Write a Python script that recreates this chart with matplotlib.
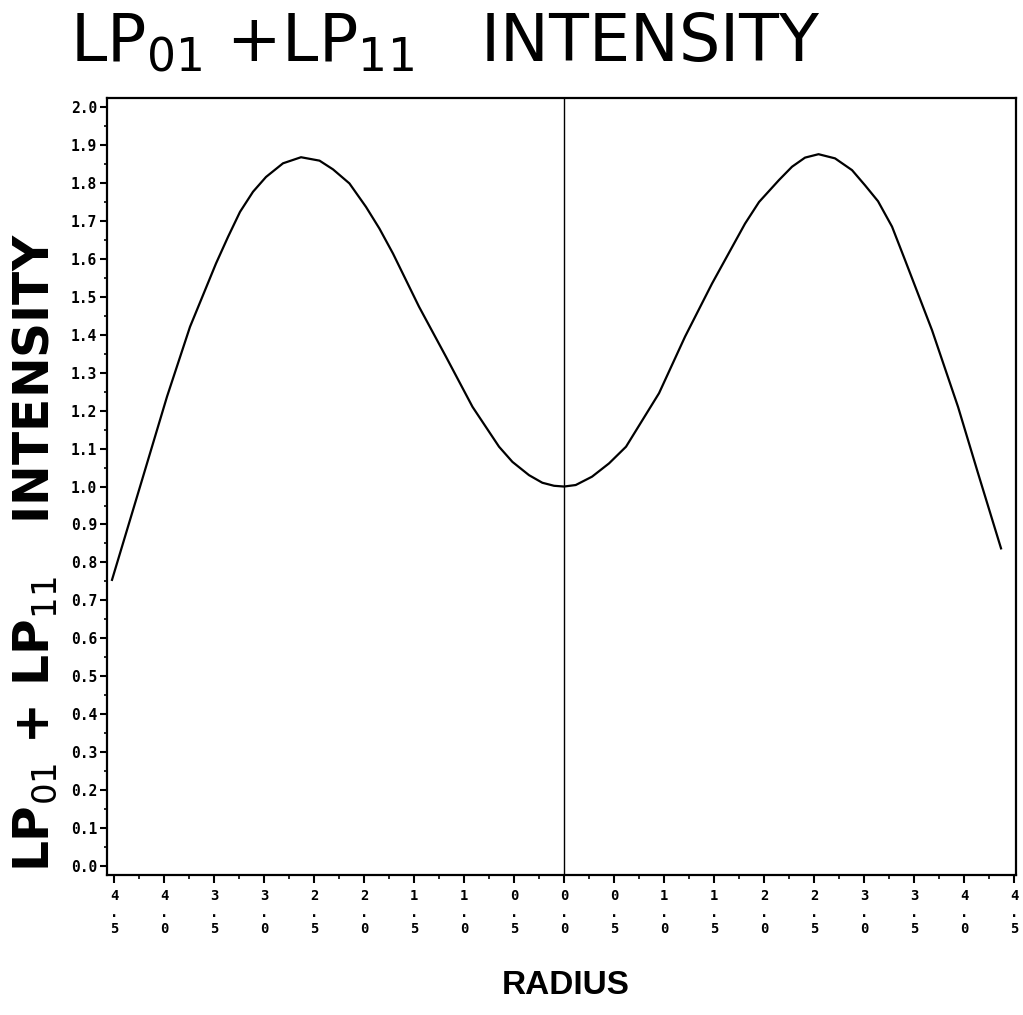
import matplotlib
matplotlib.use("Agg")
import matplotlib.pyplot as plt
from matplotlib.ticker import MultipleLocator, FixedLocator

# ---- data ----
radius = [-4.52, -4.22, -3.97, -3.74, -3.48, -3.36, -3.24, -3.11, -2.98, -2.81, -2.63,
          -2.445, -2.31, -2.146, -1.98, -1.846, -1.71, -1.45, -1.18, -0.915, -0.65, -0.516,
          -0.35, -0.217, -0.10, 0.0,
          0.117, 0.28, 0.45, 0.62, 0.95, 1.21, 1.48, 1.81, 1.95, 2.15, 2.28, 2.41, 2.545,
          2.71, 2.88, 3.01, 3.14, 3.28, 3.41, 3.68, 3.94, 4.14, 4.37]
intensity = [0.754, 1.017, 1.237, 1.421, 1.588, 1.658, 1.724, 1.777, 1.816, 1.852, 1.868,
             1.859, 1.836, 1.799, 1.737, 1.680, 1.614, 1.474, 1.342, 1.210, 1.105, 1.065,
             1.030, 1.010, 1.002, 1.000,
             1.004, 1.026, 1.061, 1.105, 1.246, 1.395, 1.535, 1.693, 1.750, 1.808, 1.843, 1.867, 1.876,
             1.865, 1.834, 1.794, 1.752, 1.685, 1.597, 1.412, 1.210, 1.035, 0.837]

xtick_vals = [-4.5, -4.0, -3.5, -3.0, -2.5, -2.0, -1.5, -1.0, -0.5, 0.0,
              0.5, 1.0, 1.5, 2.0, 2.5, 3.0, 3.5, 4.0, 4.5]
ytick_vals = [0.0, 0.1, 0.2, 0.3, 0.4, 0.5, 0.6, 0.7, 0.8, 0.9, 1.0,
              1.1, 1.2, 1.3, 1.4, 1.5, 1.6, 1.7, 1.8, 1.9, 2.0]

title_text = r"LP$_{01}$ +LP$_{11}$   INTENSITY"
ylabel_text = r"LP$_{01}$ + LP$_{11}$   INTENSITY"
xlabel_text = "RADIUS"

# ---- figure ----
fig = plt.figure(figsize=(10.23, 10.15), dpi=100)
ax = fig.add_axes([0.1046, 0.1379, 0.8886, 0.7655])

ax.plot(radius, intensity, color="black", lw=1.6, solid_joinstyle="round")
ax.axvline(0.0, color="black", lw=1.0)

ax.set_xlim(-4.57, 4.52)
ax.set_ylim(-0.024, 2.024)

ax.xaxis.set_major_locator(FixedLocator(xtick_vals))
ax.xaxis.set_minor_locator(MultipleLocator(0.25))
ax.yaxis.set_major_locator(FixedLocator(ytick_vals))
ax.yaxis.set_minor_locator(MultipleLocator(0.05))

def xlab(v):
    s = f"{abs(v):.1f}"
    return s[0] + "\n.\n" + s[2]

mono = "DejaVu Sans Mono"
ax.set_xticklabels([xlab(v) for v in xtick_vals], family=mono, fontweight="bold",
                   fontsize=10, linespacing=1.25)
ax.set_yticklabels([f"{v:.1f}" for v in ytick_vals], family=mono, fontweight="bold",
                   fontsize=10.5)

ax.tick_params(axis="x", which="major", direction="out", length=6, width=1.5, pad=4)
ax.tick_params(axis="x", which="minor", direction="out", length=3, width=1.2)
ax.tick_params(axis="y", which="major", direction="out", length=5, width=1.5, pad=2)
ax.tick_params(axis="y", which="minor", direction="out", length=2.5, width=1.2)

for sp in ax.spines.values():
    sp.set_linewidth(1.6)

fig.text(0.435, 0.939, title_text, ha="center", va="baseline",
         fontsize=47, family="DejaVu Sans")
fig.text(0.034, 0.456, ylabel_text, ha="center", va="center", rotation=90,
         fontsize=35, fontweight="bold", family="DejaVu Sans")
fig.text(0.553, 0.021, xlabel_text, ha="center", va="baseline",
         fontsize=24, fontweight="bold", family="Liberation Sans")

fig.savefig("out.png", dpi=100)
